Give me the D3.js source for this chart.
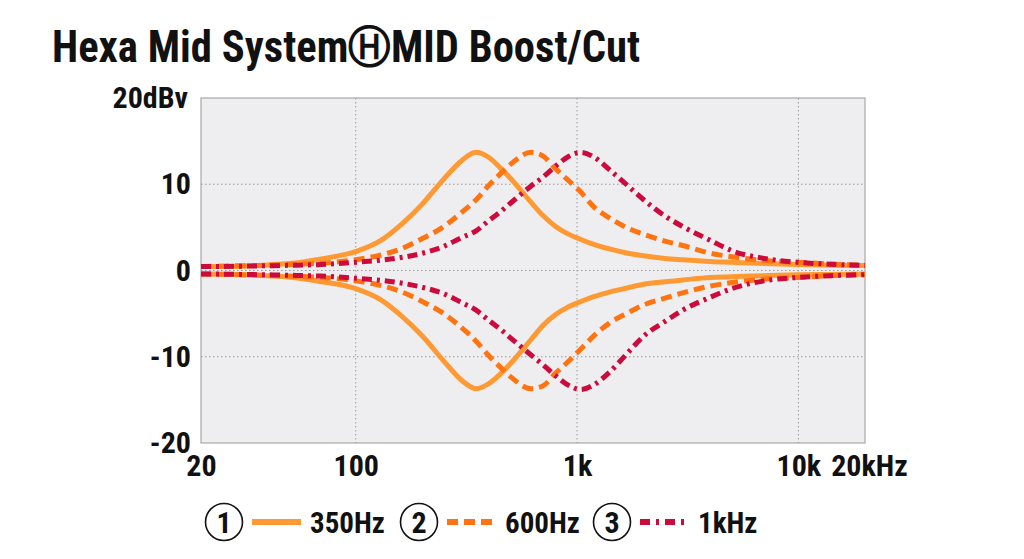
<!DOCTYPE html>
<html>
<head>
<meta charset="utf-8">
<script src="https://cdn.jsdelivr.net/npm/d3@7"></script>
<style>
  html, body { margin: 0; padding: 0; background: #ffffff; }
  svg { display: block; }
  text { font-family: "Liberation Sans Narrow", "Roboto Condensed", "DejaVu Sans Condensed", "Liberation Sans", sans-serif; font-weight: bold; fill: #111; }
</style>
</head>
<body>
<div id="chart"></div>
<script>
// Frequenze (Hz) dove sono letti i valori
const freqs = [20, 30, 40, 50, 70, 100, 130, 160, 200, 250, 300, 350, 400, 450, 500, 620, 700, 800, 900, 1040,
               1200, 1400, 1700, 2000, 2500, 3000, 4000, 5000, 7000, 10000, 14000, 20000];

// Boost (dBv)
const boost350 = [0.45, 0.5, 0.65, 0.8, 1.35, 2.2, 3.5, 5.3, 7.7, 10.6, 12.7, 13.7, 13.1, 11.9, 10.7, 7.9, 6.4, 5.1, 4.3, 3.6,
                  3.0, 2.5, 2.0, 1.7, 1.4, 1.25, 1.05, 0.95, 0.8, 0.7, 0.62, 0.58];
const boost600 = [0.45, 0.55, 0.6, 0.7, 0.85, 1.25, 1.8, 2.5, 3.7, 5.1, 6.7, 8.2, 9.9, 11.2, 12.3, 13.7, 13.3, 11.8, 10.6, 9.1,
                  7.3, 6.1, 4.9, 4.2, 3.4, 2.9, 2.0, 1.6, 1.15, 0.95, 0.75, 0.62];
const boost1k  = [0.45, 0.5, 0.55, 0.6, 0.7, 0.95, 1.2, 1.5, 2.0, 2.8, 3.8, 4.6, 5.8, 6.8, 7.8, 9.8, 10.8, 12.1, 13.1, 13.7,
                  13.1, 11.7, 9.8, 8.2, 6.3, 5.1, 3.5, 2.3, 1.4, 0.95, 0.72, 0.58];

// Cut (dBv)
const cut350 = [-0.4, -0.45, -0.6, -0.75, -1.3, -2.1, -3.4, -5.2, -7.6, -10.5, -12.7, -13.7, -13.1, -12.0, -10.8, -8.0, -6.4, -5.1, -4.3, -3.6,
                -3.0, -2.5, -2.0, -1.6, -1.3, -1.1, -0.8, -0.72, -0.6, -0.5, -0.45, -0.4];
const cut600 = [-0.4, -0.5, -0.55, -0.65, -0.8, -1.2, -1.75, -2.45, -3.6, -5.0, -6.6, -8.2, -9.9, -11.2, -12.3, -13.7, -13.4, -11.9, -10.7, -9.1,
                -7.5, -6.1, -4.9, -4.0, -3.2, -2.6, -1.8, -1.4, -1.0, -0.8, -0.6, -0.5];
const cut1k  = [-0.4, -0.45, -0.5, -0.55, -0.65, -0.9, -1.15, -1.45, -1.95, -2.7, -3.7, -4.6, -5.8, -6.8, -7.8, -9.8, -10.9, -12.2, -13.2, -13.8,
                -13.2, -11.8, -9.5, -7.6, -5.9, -4.6, -3.1, -2.1, -1.2, -0.8, -0.6, -0.48];

// Etichette degli assi
const xTicks = [20, 100, 1000, 10000, 20000];
const xTickLabels = ["20", "100", "1k", "10k", "20kHz"];
const yTicks = [-20, -10, 0, 10, 20];
const yTickLabels = ["-20", "-10", "0", "10", "20dBv"];

const seriesNames = ["350Hz", "600Hz", "1kHz"];
const seriesNums = ["1", "2", "3"];

const W = 1024, H = 559;
const colors = ["#ff9933", "#ff7410", "#cc0b3c"];
const dashes = [null, "11,6", "10,5,3,5"];

const svg = d3.select("#chart").append("svg")
    .attr("width", W)
    .attr("height", H);

// Scale
const x = d3.scaleLog().domain([20, 20000]).range([201, 865]);
const y = d3.scaleLinear().domain([-20, 20]).range([443, 98]);

// Titolo
svg.append("text")
    .attr("x", 52)
    .attr("y", 62)
    .attr("textLength", 588)
    .attr("lengthAdjust", "spacingAndGlyphs")
    .style("font-size", "44px")
    .text("Hexa Mid System\u24BDMID Boost/Cut");

// Sfondo area grafico
svg.append("rect")
    .attr("x", x(20))
    .attr("y", y(20))
    .attr("width", x(20000) - x(20))
    .attr("height", y(-20) - y(20))
    .attr("fill", "#eeeef0")
    .attr("stroke", "#a8a8a8")
    .attr("stroke-width", 1.2);

// Griglia tratteggiata
const grid = svg.append("g")
    .attr("stroke", "#9a9a9a")
    .attr("stroke-width", 1)
    .attr("stroke-dasharray", "1.5,2.5");

grid.selectAll("line.v")
    .data([100, 1000, 10000])
    .enter()
    .append("line")
    .attr("x1", d => x(d)).attr("x2", d => x(d))
    .attr("y1", y(20)).attr("y2", y(-20));

grid.selectAll("line.h")
    .data([-10, 0, 10])
    .enter()
    .append("line")
    .attr("x1", x(20)).attr("x2", x(20000))
    .attr("y1", d => y(d)).attr("y2", d => y(d));

// Asse X
const xAxis = svg.append("g")
    .attr("transform", `translate(0,${y(-20)})`)
    .call(d3.axisBottom(x).tickValues(xTicks).tickFormat((d, i) => xTickLabels[i]).tickSize(0).tickPadding(12));
xAxis.select(".domain").remove();
xAxis.selectAll("text")
    .style("font-size", "30px")
    .attr("fill", "#111");
xAxis.selectAll(".tick").filter(d => d === 20000).select("text").attr("dx", 4);

// Asse Y
const yAxis = svg.append("g")
    .attr("transform", `translate(${x(20)},0)`)
    .call(d3.axisLeft(y).tickValues(yTicks).tickFormat((d, i) => yTickLabels[i]).tickSize(0).tickPadding(10));
yAxis.select(".domain").remove();
yAxis.selectAll("text")
    .style("font-size", "30px")
    .attr("fill", "#111");
yAxis.selectAll(".tick").filter(d => d === 20).select("text").attr("dy", "0.3em").attr("dx", -3);

// Curve
const line = d3.line()
    .x((d, i) => x(freqs[i]))
    .y(d => y(d))
    .curve(d3.curveMonotoneX);

const curves = [
    { vals: boost350, k: 0 }, { vals: cut350, k: 0 },
    { vals: boost600, k: 1 }, { vals: cut600, k: 1 },
    { vals: boost1k, k: 2 }, { vals: cut1k, k: 2 }
];

svg.append("g")
    .selectAll("path")
    .data(curves)
    .enter()
    .append("path")
    .attr("d", d => line(d.vals))
    .attr("fill", "none")
    .attr("stroke", d => colors[d.k])
    .attr("stroke-width", 5)
    .attr("stroke-dasharray", d => dashes[d.k]);

// Legenda
const legendX = [224, 419, 612];
const legend = svg.append("g");
seriesNames.forEach((name, i) => {
    const g = legend.append("g").attr("transform", `translate(${legendX[i]},522)`);
    g.append("circle")
        .attr("r", 18.5)
        .attr("fill", "none")
        .attr("stroke", "#111")
        .attr("stroke-width", 1.6);
    g.append("text")
        .attr("y", 10.5)
        .attr("text-anchor", "middle")
        .style("font-size", "30px")
        .text(seriesNums[i]);
    g.append("line")
        .attr("x1", 28).attr("x2", 77)
        .attr("y1", 0).attr("y2", 0)
        .attr("stroke", colors[i])
        .attr("stroke-width", 6)
        .attr("stroke-dasharray", i === 0 ? null : (i === 1 ? "11,6" : "10,6,3,6"));
    g.append("text")
        .attr("x", 86)
        .attr("y", 10.5)
        .style("font-size", "29px")
        .text(name);
});
</script>
</body>
</html>
